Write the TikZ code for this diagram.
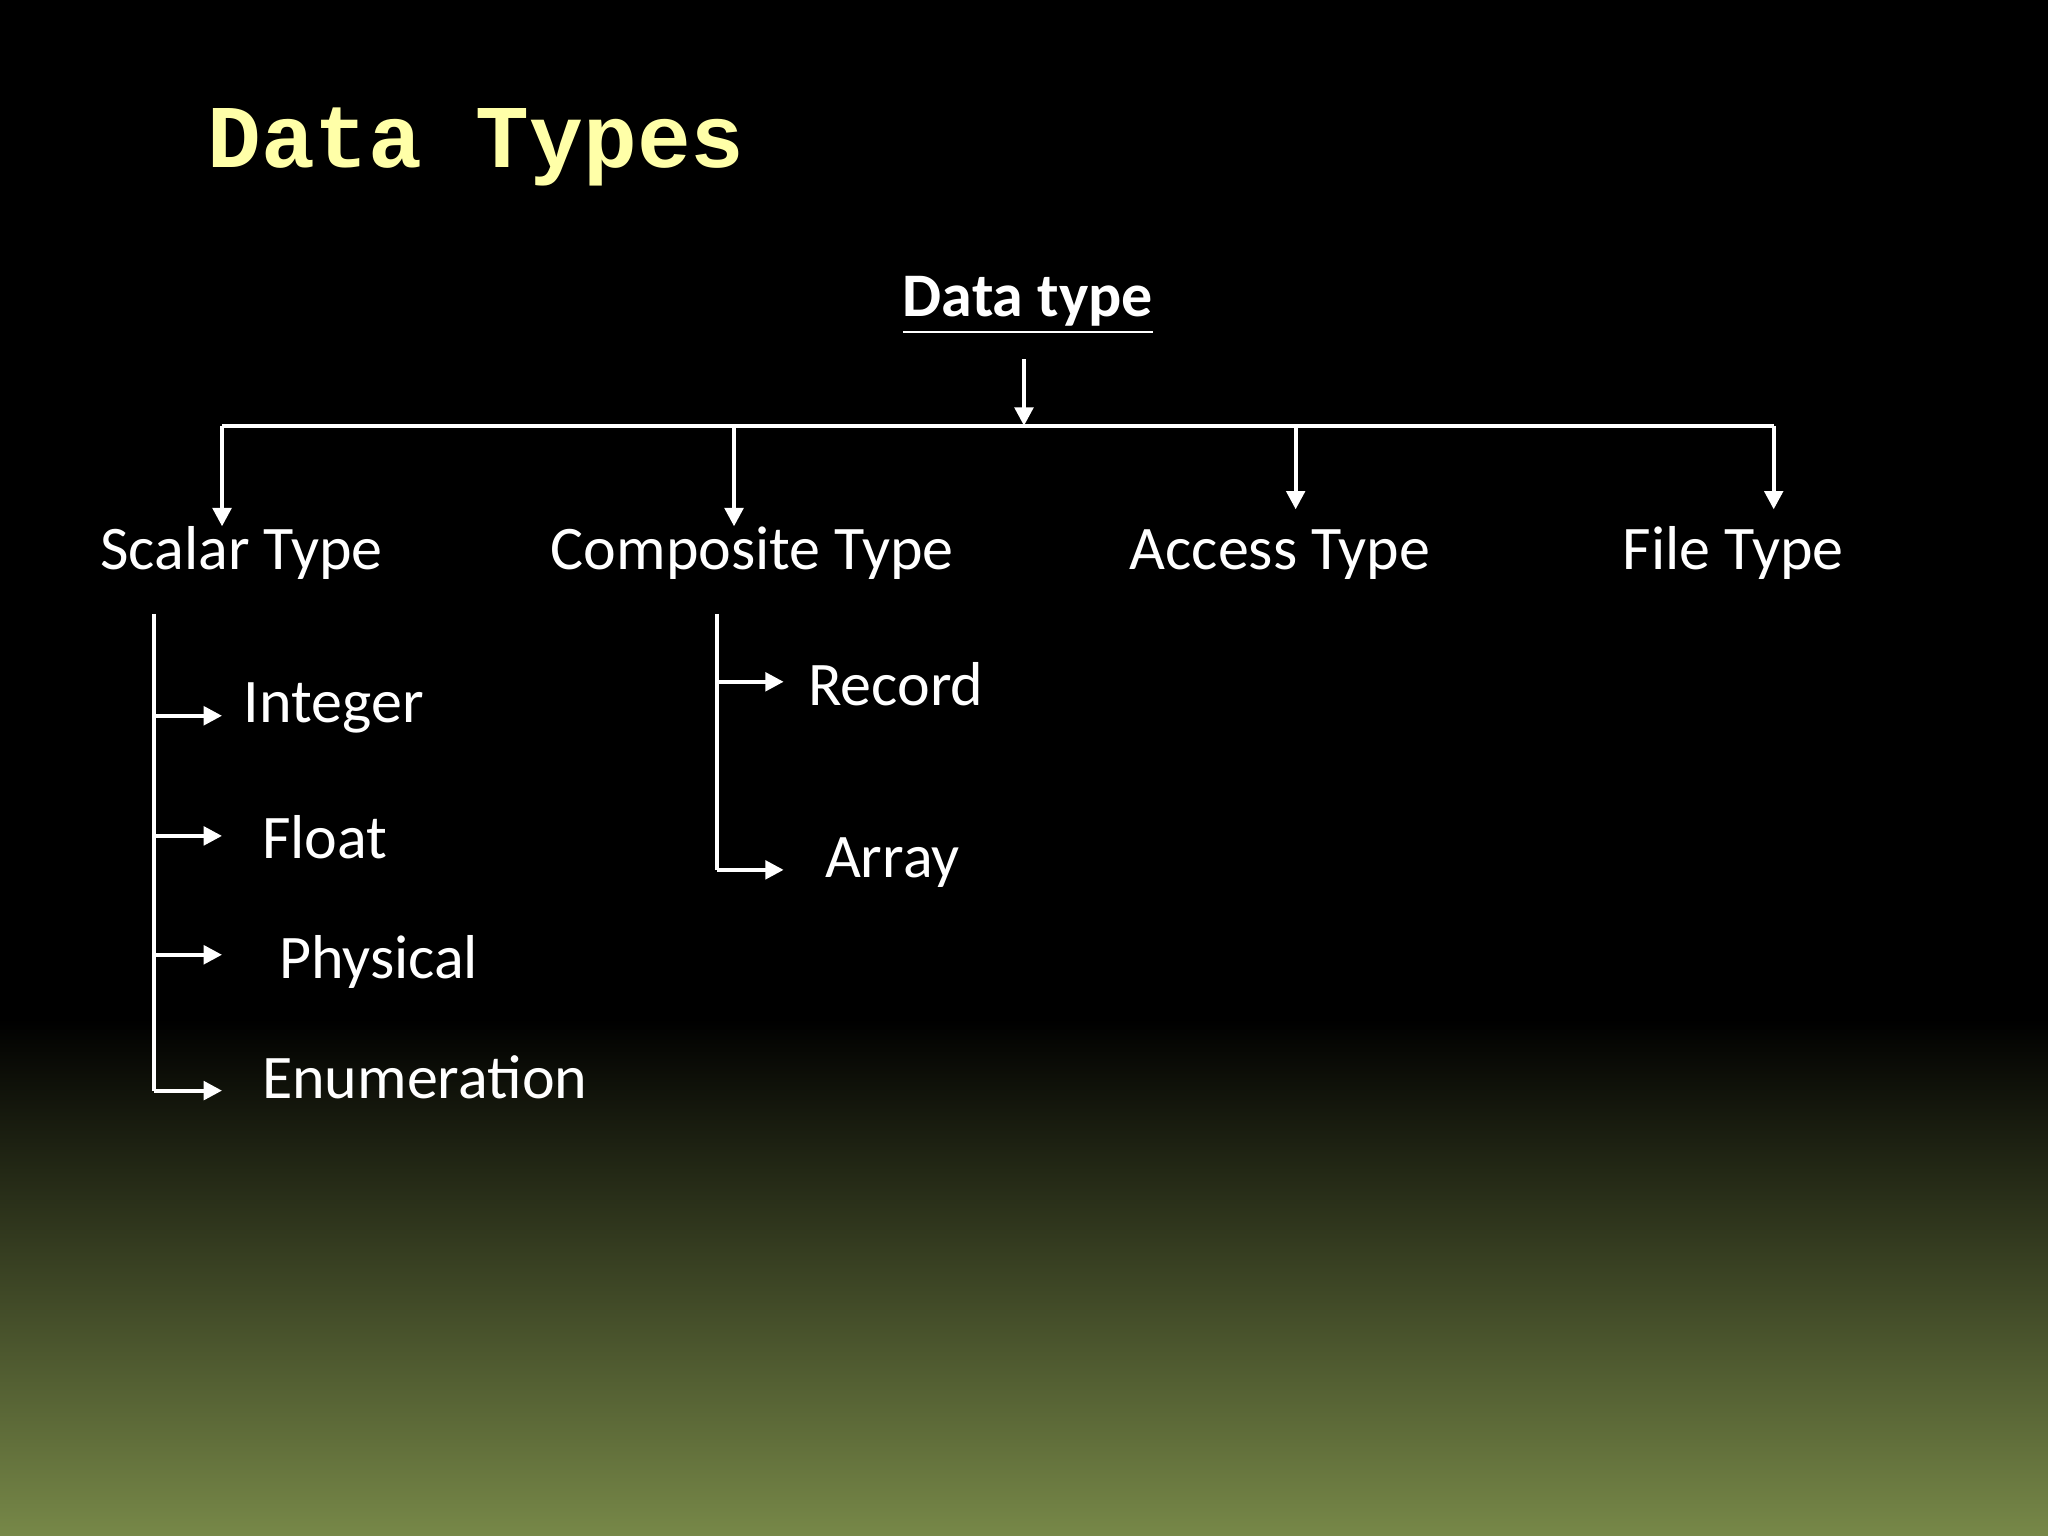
\documentclass[tikz,border=0pt]{standalone}
\usepackage{fontspec}
\setmainfont{Carlito}
\newfontfamily\titlefont{Liberation Mono}
\usetikzlibrary{arrows.meta}
\definecolor{olive}{HTML}{778848}
\definecolor{titleyellow}{HTML}{FFFFA8}
\begin{document}
\begin{tikzpicture}[x=0.01cm,y=-0.01cm,
  lbl/.style={text=white,font=\fontsize{13.5}{15}\selectfont,inner sep=0},
  conn/.style={white,line width=0.9pt,-{Triangle[length=4pt,width=4pt]}},
  plain/.style={white,line width=0.9pt}]
\fill[black] (0,0) rectangle (1568,781);
\shade[top color=black,bottom color=olive] (0,780) rectangle (1568,1176);
\useasboundingbox (0,0) rectangle (1568,1176);
\node[anchor=base west,text=titleyellow,inner sep=0,font=\titlefont\bfseries\fontsize{19.5}{22}\selectfont] (title) at (158,128) {Data Types};
\node[lbl,anchor=base,font=\bfseries\fontsize{13.5}{15}\selectfont] (dt) at (787,242) {\underline{Data type}};
\node[lbl,anchor=base] (scalar) at (185,436) {Scalar Type};
\node[lbl,anchor=base] (comp) at (576,436) {Composite Type};
\node[lbl,anchor=base] (access) at (980,436) {Access Type};
\node[lbl,anchor=base] (file) at (1327,436) {File Type};
\node[lbl,anchor=base west] (int) at (186,553) {Integer};
\node[lbl,anchor=base west] (flt) at (200,657) {Float};
\node[lbl,anchor=base west] (phy) at (213,749) {Physical};
\node[lbl,anchor=base west] (enm) at (200,841) {Enumeration};
\node[lbl,anchor=base west] (rec) at (618,540) {Record};
\node[lbl,anchor=base west] (arr) at (631,672) {Array};
\coordinate (t0) at (784,275); \coordinate (t1) at (784,326);
\coordinate (hL) at (170,326); \coordinate (hR) at (1358,326);
\coordinate (h2) at (562,326); \coordinate (h3) at (992,326);
\draw[conn] (t0) -- (t1);
\draw[plain] (hL) -- (hR);
\draw[conn] (hL) -- (170,403);
\draw[conn] (h2) -- (562,403);
\draw[conn] (h3) -- (992,390);
\draw[conn] (hR) -- (1358,390);
\draw[plain] (118,470) -- (118,835);
\foreach \y in {548,640,731,835} \draw[conn] (118,\y) -- (170,\y);
\draw[plain] (549,470) -- (549,666);
\foreach \y in {522,666} \draw[conn] (549,\y) -- (600,\y);
\end{tikzpicture}
\end{document}
